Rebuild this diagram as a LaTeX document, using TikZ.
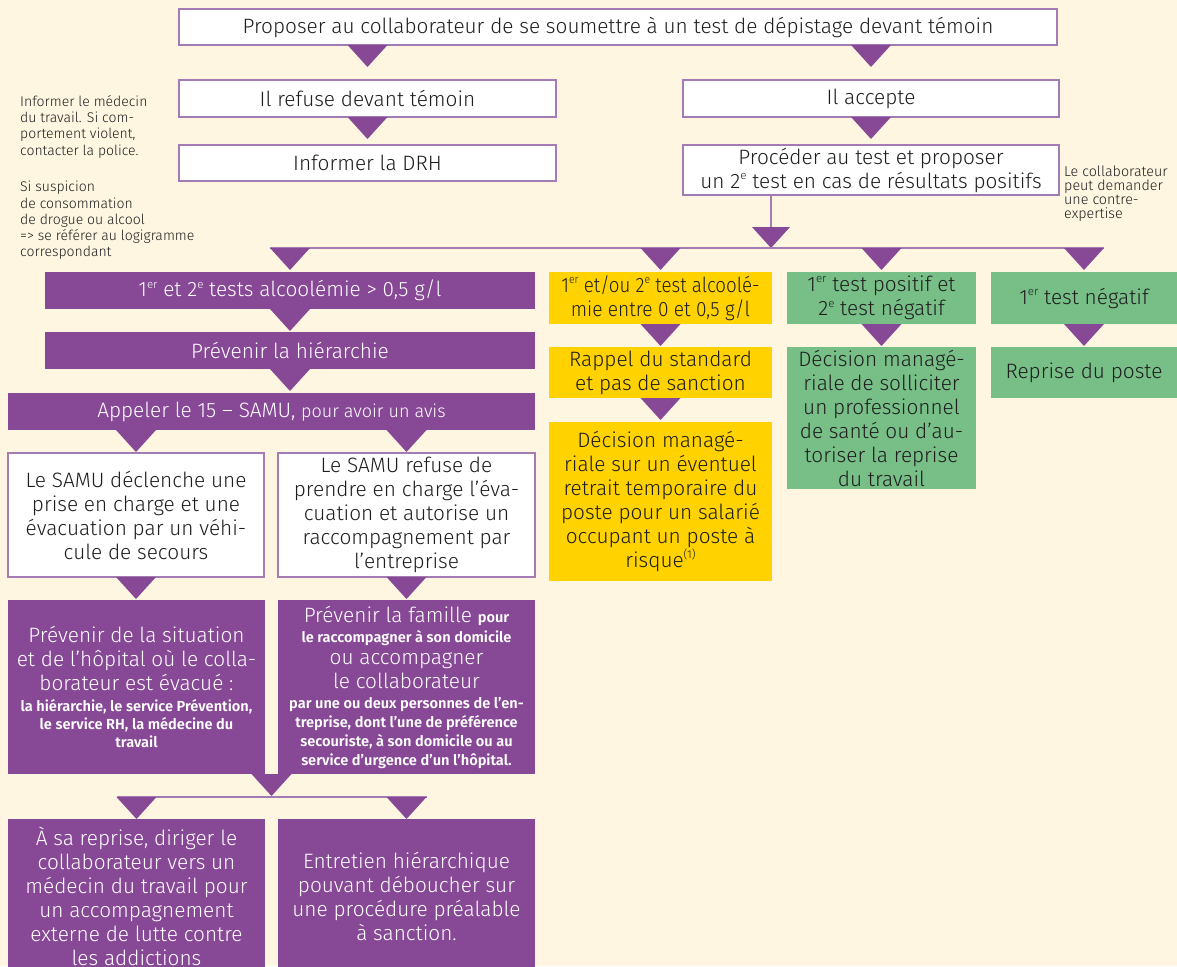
\documentclass[tikz,border=0pt]{standalone}
\usepackage{fontspec}
\usepackage{graphicx}
\setmainfont{Fira Sans Light}[BoldFont={Fira Sans SemiBold}]
\usetikzlibrary{calc}
\definecolor{bg}{HTML}{FEF6E1}
\definecolor{purp}{HTML}{874896}
\definecolor{lpurp}{HTML}{A47BB3}
\definecolor{yel}{HTML}{FFD200}
\definecolor{grn}{HTML}{77BE87}
\definecolor{ink}{HTML}{1E1E1E}
\newcommand\fs[2]{\fontsize{#1}{#2}\selectfont}
\newcommand\bsm{\bfseries\fs{14.6}{17}}
\newcommand\sml{\fs{18}{24}}
\newcommand\ex[1]{\raisebox{0.8ex}{\fs{11.5}{11.5}#1}}
\newcommand\bx[7]{%
  \pgfmathsetmacro\bxw{#5-#3}\pgfmathsetmacro\bxh{#6-#4}%
  \node[#2, minimum width=\bxw pt, minimum height=\bxh pt] (#1) at ({(#3+#5)/2},{(#4+#6)/2}) {#7};}
\newcommand\tri[1]{\path (#1) coordinate (tq);
  \fill[purp] ([xshift=-20pt]tq) -- ([xshift=20pt]tq) -- ([yshift=-22pt]tq) -- cycle;}
\begin{document}
\begin{tikzpicture}[x=1pt,y=-1pt,
  base/.style={inner sep=0pt, outer sep=0pt, align=center, font=\fs{20.8}{24}},
  wbox/.style={base, draw=lpurp, line width=1.3pt, fill=white, text=ink},
  pbox/.style={base, fill=purp, text=white},
  ybox/.style={base, fill=yel, text=ink},
  gbox/.style={base, fill=grn, text=ink},
  note/.style={inner sep=0pt, align=left, anchor=north west, font=\fs{14}{16.3}, text=ink},
  conn/.style={draw=lpurp, line width=1.3pt}]
\useasboundingbox (0,0) rectangle (1177,966);
\fill[bg] (0,0) rectangle (1177,966);

% top part
\bx{top}{wbox}{179}{9}{1057}{45}{Proposer au collaborateur de se soumettre à un test de dépistage devant témoin}
\bx{refuse}{wbox}{179}{80}{556}{117}{Il refuse devant témoin}
\bx{accept}{wbox}{683}{80}{1059}{117}{Il accepte}
\bx{drh}{wbox}{179}{145}{556}{181}{Informer la DRH}
\bx{proc}{wbox}{683}{145}{1059}{195}{Procéder au test et proposer\\un 2\ex{e} test en cas de résultats positifs}

\node[note] (n1) at (20,95) {Informer le médecin\\du travail. Si com-\\portement violent,\\contacter la police.};
\node[note] (n2) at (20,181) {Si suspicion\\de consommation\\de drogue ou alcool\\=> se référer au logigramme\\correspondant};
\node[note, font=\fs{14.3}{13.8}] (n3) at (1064,166) {Le collaborateur\\peut demander\\une contre-\\expertise};

% left column
\bx{p1}{pbox}{45}{272}{535}{309}{1\ex{er} et 2\ex{e} tests alcoolémie > 0,5 g/l}
\bx{p2}{pbox}{45}{332}{535}{369}{Prévenir la hiérarchie}
\bx{p3}{pbox}{8}{393}{535}{430}{Appeler le 15 – SAMU, {\sml pour avoir un avis}}
\bx{w1}{wbox}{8}{453}{264}{577}{Le SAMU déclenche une\\prise en charge et une\\évacuation par un véhi-\\cule de secours}
\bx{w2}{wbox}{278}{453}{535}{577}{Le SAMU refuse de\\prendre en charge l’éva-\\cuation et autorise un\\raccompagnement par\\l’entreprise}
\bx{p4}{pbox}{8}{600}{265}{774}{Prévenir de la situation\\et de l’hôpital où le colla-\\borateur est évacué :\\[-3pt]{\bsm la hiérarchie, le service Prévention,}\\[-6pt]{\bsm le service RH, la médecine du}\\[-6pt]{\bsm travail}}
\bx{p5}{pbox}{278}{600}{535}{774}{Prévenir la famille {\bsm pour}\\[-4pt]{\bsm le raccompagner à son domicile}\\[-2pt]ou accompagner\\le collaborateur\\[-4pt]{\bsm par une ou deux personnes de l’en-}\\[-5pt]{\bsm treprise, dont l’une de préférence}\\[-5pt]{\bsm secouriste, à son domicile ou au}\\[-5pt]{\bsm service d’urgence d’un l’hôpital.}}
\bx{b1}{pbox}{8}{819}{265}{973}{À sa reprise, diriger le\\collaborateur vers un\\médecin du travail pour\\un accompagnement\\externe de lutte contre\\les addictions}
\bx{b2}{pbox}{278}{819}{535}{973}{Entretien hiérarchique\\pouvant déboucher sur\\une procédure préalable\\à sanction.}

% right columns
\bx{y1}{ybox}{549}{272}{772}{324}{\scalebox{0.9}[1]{1\ex{er} et/ou 2\ex{e} test alcoolé-}\\\scalebox{0.92}[1]{mie entre 0 et 0,5 g/l}}
\bx{y2}{ybox}{549}{347}{772}{398}{Rappel du standard\\et pas de sanction}
\bx{y3}{ybox}{549}{422}{772}{581}{Décision managé-\\riale sur un éventuel\\retrait temporaire du\\poste pour un salarié\\occupant un poste à\\risque\ex{(1)}}
\bx{g1}{gbox}{787}{272}{976}{324}{1\ex{er} test positif et\\2\ex{e} test négatif}
\bx{g2}{gbox}{787}{347}{976}{489}{Décision managé-\\riale de solliciter\\un professionnel\\de santé ou d’au-\\toriser la reprise\\du travail}
\bx{g3}{gbox}{991}{272}{1177}{324}{1\ex{er} test négatif}
\bx{g4}{gbox}{991}{347}{1177}{398}{Reprise du poste}

% connectors
\tri{top.south -| refuse.north}
\tri{top.south -| accept.north}
\tri{refuse.south}
\tri{accept.south}
\coordinate (v) at (771,227);
\coordinate (hl) at (0,248);
\draw[conn] (proc.south -| v) -- (v);
\fill[purp] ([xshift=-19pt]v) -- ([xshift=19pt]v) -- ([yshift=-21pt]v) -- cycle;
\path (p1.north |- hl) coordinate (hla) (g3.north |- hl) coordinate (hlb);
\draw[conn] ([xshift=-20pt]hla) -- ([xshift=20pt]hlb);
\tri{p1.north |- hl}
\tri{y1.north |- hl}
\tri{g1.north |- hl}
\tri{g3.north |- hl}
\tri{p1.south}
\tri{p2.south}
\tri{p3.south -| w1.north}
\tri{p3.south -| w2.north}
\tri{w1.south}
\tri{w2.south}
\tri{y1.south}
\tri{y2.south}
\tri{g1.south}
\tri{g3.south}
\path ($(p4.south east)!0.5!(p5.south west)$) coordinate (m);
\tri{m}
\coordinate (hl2) at (0,797);
\path (b1.north |- hl2) coordinate (hlc) (b2.north |- hl2) coordinate (hld);
\draw[conn] ([xshift=-20pt]hlc) -- ([xshift=20pt]hld);
\tri{b1.north |- hl2}
\tri{b2.north |- hl2}
\end{tikzpicture}
\end{document}
